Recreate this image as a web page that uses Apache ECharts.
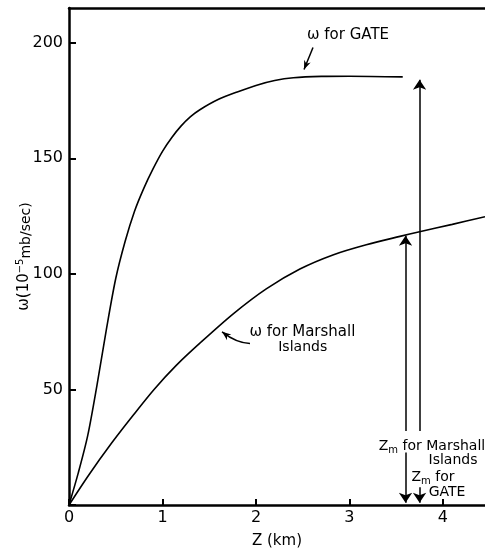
<!DOCTYPE html>
<html>
<head>
<meta charset="utf-8">
<script src="https://cdn.jsdelivr.net/npm/echarts@6/dist/echarts.min.js"></script>
<style>html,body{margin:0;padding:0;background:#fff}#c{width:485px;height:554px}</style>
</head>
<body>
<div id="c"></div>
<script>
// ---- data ----
const zGate = [0, 0.1, 0.2, 0.3, 0.4, 0.5, 0.6, 0.7, 0.8, 0.9, 1.0, 1.1, 1.2, 1.3, 1.4, 1.6, 1.8, 2.0, 2.2, 2.4, 2.7, 3.0, 3.57];
const wGate = [0, 14, 30, 52, 76, 98, 114, 127, 137, 145.5, 153, 159, 164, 168, 171, 175.5, 178.7, 181.5, 183.6, 184.8, 185.4, 185.5, 185.2];
const zMarsh = [0, 0.21, 0.46, 0.68, 0.91, 1.15, 1.40, 1.76, 2.11, 2.47, 2.83, 3.18, 3.54, 3.75, 4.10, 4.45];
const wMarsh = [0, 12.9, 27, 38.5, 50, 60.5, 70, 82.8, 93.5, 102.1, 108.3, 112.6, 116.2, 118.2, 121.4, 124.7];
const xTicks = [0, 1, 2, 3, 4];
const yTicks = [50, 100, 150, 200];
const zmMarsh = 3.60, zmMarshTop = 116.5;
const zmGate = 3.75, zmGateTop = 184;
const FONT = 'DejaVu Sans';

const chart = echarts.init(document.getElementById('c'));
const zip = (a, b) => a.map((v, i) => [v, b[i]]);

chart.setOption({
  animation: false,
  backgroundColor: '#fff',
  grid: { left: 69, right: 0, top: 8, bottom: 44 },
  xAxis: [{
    type: 'value', min: 0, max: 4.45, interval: 1,
    axisLine: { lineStyle: { color: '#000', width: 2.5 } },
    axisTick: { inside: true, length: 6, lineStyle: { color: '#000', width: 2 } },
    axisLabel: { color: '#000', fontSize: 16, fontFamily: FONT, margin: 5, showMaxLabel: false,
      formatter: v => xTicks.includes(v) ? String(v) : '' },
    splitLine: { show: false },
    name: 'Z (km)', nameLocation: 'middle', nameGap: 29,
    nameTextStyle: { color: '#000', fontSize: 15, fontFamily: FONT }
  }, {
    type: 'value', position: 'top', min: 0, max: 4.45,
    axisLine: { lineStyle: { color: '#000', width: 2.5 } },
    axisTick: { show: false }, axisLabel: { show: false }, splitLine: { show: false }
  }],
  yAxis: {
    type: 'value', min: 0, max: 215, interval: 50,
    axisLine: { lineStyle: { color: '#000', width: 2.5 } },
    axisTick: { inside: true, length: 7, lineStyle: { color: '#000', width: 2 } },
    axisLabel: { color: '#000', fontSize: 16, fontFamily: FONT, margin: 6, showMaxLabel: false,
      formatter: v => yTicks.includes(v) ? String(v) : '' },
    splitLine: { show: false }
  },
  series: [{
    name: 'GATE', type: 'line', data: zip(zGate, wGate), smooth: 0.3, showSymbol: false,
    lineStyle: { color: '#000', width: 1.6 }
  }, {
    name: 'Marshall', type: 'line', data: zip(zMarsh, wMarsh), smooth: 0.3, showSymbol: false,
    lineStyle: { color: '#000', width: 1.6 }
  }, {
    type: 'lines', coordinateSystem: 'cartesian2d', symbol: ['none', 'arrow'], symbolSize: 10,
    lineStyle: { color: '#000', width: 1.5, opacity: 1 },
    data: [
      { coords: [[zmMarsh, 32], [zmMarsh, zmMarshTop]] },
      { coords: [[zmMarsh, 22.7], [zmMarsh, 1]] },
      { coords: [[zmGate, 32], [zmGate, zmGateTop]] },
      { coords: [[zmGate, 7.7], [zmGate, 1]] }
    ]
  }]
});

// ---- annotations (anchored in data coordinates) ----
const P = (z, w) => chart.convertToPixel({ gridIndex: 0 }, [z, w]);
function arrowHead(tip, from, L, W) {
  const dx = tip[0] - from[0], dy = tip[1] - from[1];
  const d = Math.hypot(dx, dy), ux = dx / d, uy = dy / d, nx = -uy, ny = ux;
  return [tip,
    [tip[0] - L * ux + W * nx, tip[1] - L * uy + W * ny],
    [tip[0] - 0.7 * L * ux, tip[1] - 0.7 * L * uy],
    [tip[0] - L * ux - W * nx, tip[1] - L * uy - W * ny]];
}
const rich = {
  a: { fontSize: 14, fontFamily: FONT, color: '#000', lineHeight: 18, verticalAlign: 'middle' },
  b: { fontSize: 15, fontFamily: FONT, color: '#000', lineHeight: 18, verticalAlign: 'middle' },
  s: { fontSize: 10, fontFamily: FONT, color: '#000', lineHeight: 10, verticalAlign: 'bottom' },
  sup: { fontSize: 10, fontFamily: FONT, color: '#000', lineHeight: 10, verticalAlign: 'top' },
  lo: { fontSize: 14, fontFamily: FONT, color: '#000', lineHeight: 14, verticalAlign: 'bottom' }
};
function txt(pos, text, extra) {
  return Object.assign({ type: 'text', x: pos[0], y: pos[1], z: 100,
    style: { text: text, rich: rich, align: 'center', verticalAlign: 'middle', fill: '#000',
      font: '14px ' + FONT } }, extra || {});
}
const gTail = P(2.61, 197.9), gTip = P(2.514, 188.4);
const mTail = P(1.936, 69.9), mCtrl = P(1.794, 70.0), mTip = P(1.637, 74.9);
const grid = chart.getModel().getComponent('grid').coordinateSystem.getRect();
chart.setOption({
  graphic: [
    txt(P(2.985, 203.4), '{b|ω for GATE}'),
    { type: 'line', z: 100, shape: { x1: gTail[0], y1: gTail[1], x2: gTip[0], y2: gTip[1] },
      style: { stroke: '#000', lineWidth: 1.5 } },
    { type: 'polygon', z: 100, shape: { points: arrowHead(gTip, gTail, 9, 3.5) }, style: { fill: '#000' } },
    txt(P(2.497, 74.9), '{b|ω for Marshall}'),
    txt(P(2.50, 68.0), '{a|Islands}'),
    { type: 'bezierCurve', z: 100, shape: { x1: mTail[0], y1: mTail[1], cpx1: mCtrl[0], cpy1: mCtrl[1], x2: mTip[0], y2: mTip[1] },
      style: { stroke: '#000', lineWidth: 1.5, fill: null } },
    { type: 'polygon', z: 100, shape: { points: arrowHead(mTip, mCtrl, 9, 3.5) }, style: { fill: '#000' } },
    txt(P(3.883, 25.5), '{a|Z}{s|m}{a| for Marshall}'),
    txt(P(4.108, 19.5), '{a|Islands}'),
    txt(P(3.894, 11.8), '{a|Z}{s|m}{a| for}'),
    txt(P(4.044, 5.4), '{a|GATE}'),
    txt([grid.x - 45, grid.y + grid.height / 2], '{b|ω(10}{sup|−5}{lo|mb/sec)}', { rotation: Math.PI / 2 })
  ]
});
</script>
</body>
</html>
